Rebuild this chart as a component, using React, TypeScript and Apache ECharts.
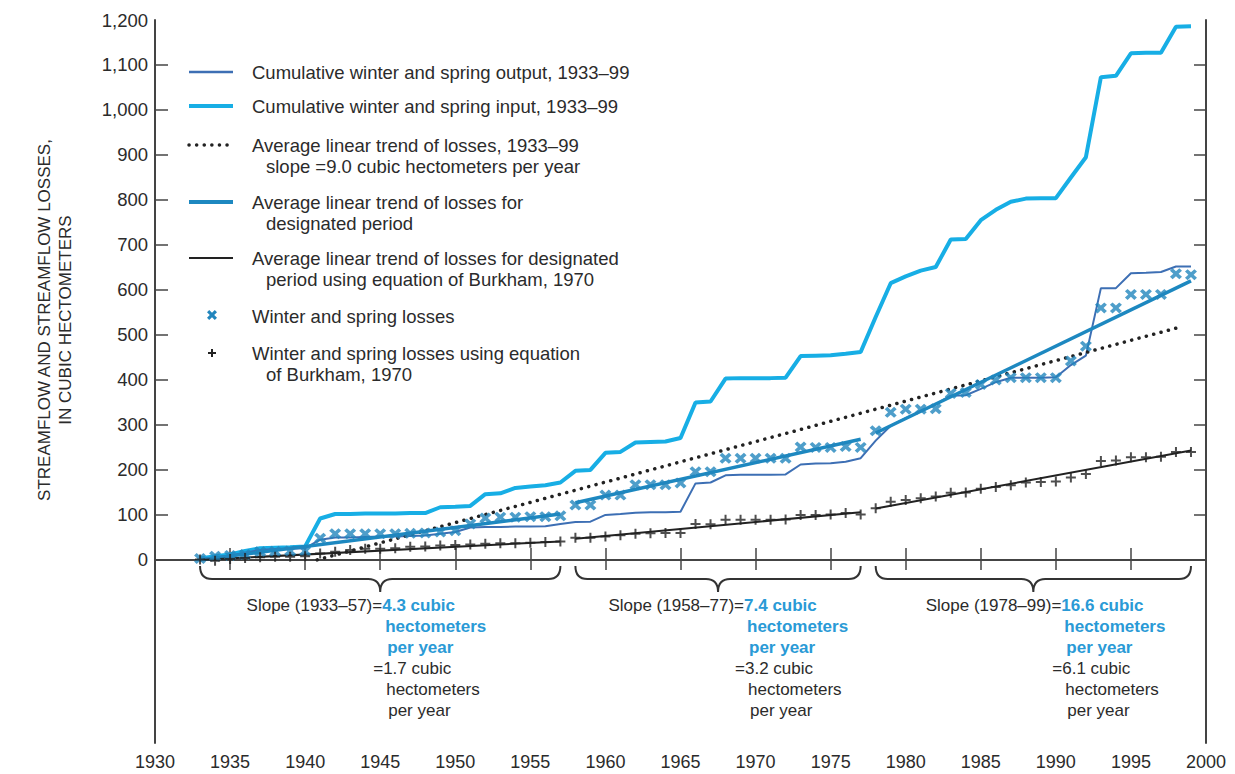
import React, { useEffect, useRef } from "react";
import * as echarts from "echarts";

// ---------------- DATA ----------------
const FIRST_YEAR = 1933;
const LAST_YEAR = 1999;
const YEARS: number[] = [];
for (let y = FIRST_YEAR; y <= LAST_YEAR; y++) YEARS.push(y);

const CUM_INPUT = [
  3, 8, 12, 20, 26, 27, 28, 30, 92, 102,
  102, 103, 103, 103, 104, 104, 117, 118, 120, 146,
  148, 160, 163, 166, 172, 198, 200, 238, 240, 261,
  262, 263, 271, 350, 352, 403, 404, 404, 404, 405,
  453, 454, 455, 458, 462, 540, 615, 630, 643, 651,
  712, 713, 755, 778, 796, 803, 804, 804, 850, 895,
  1073, 1076, 1126, 1127, 1127, 1185, 1186,
];
const CUM_OUTPUT = [
  2, 6, 10, 16, 22, 24, 25, 26, 45, 50,
  50, 51, 52, 52, 53, 54, 58, 62, 72, 73,
  73, 74, 74, 75, 80, 84, 85, 100, 102, 105,
  106, 106, 107, 170, 172, 188, 189, 189, 189, 190,
  212, 214, 215, 218, 226, 265, 298, 315, 330, 346,
  365, 366, 380, 395, 405, 405, 405, 406, 433, 454,
  604, 604, 637, 638, 640, 652, 652,
];
const LOSSES = [
  3, 8, 10, 12, 18, 19, 20, 20, 48, 58,
  58, 58, 58, 58, 59, 60, 62, 65, 80, 93,
  95, 95, 96, 96, 98, 122, 122, 144, 144, 167,
  167, 167, 171, 196, 196, 226, 226, 226, 226, 226,
  251, 250, 250, 252, 250, 287, 328, 335, 335, 336,
  370, 372, 390, 400, 405, 405, 405, 405, 442, 475,
  560, 560, 590, 590, 590, 636, 634,
];
const LOSSES_BURKHAM = [
  1, -2, 2, 4, 6, 7, 7, 8, 14, 18,
  22, 25, 25, 26, 29, 30, 32, 33, 34, 36,
  37, 37, 38, 40, 41, 49, 49, 52, 55, 58,
  59, 60, 60, 80, 79, 89, 89, 89, 89, 90,
  100, 100, 101, 104, 101, 115, 129, 133, 137, 141,
  149, 150, 158, 162, 166, 172, 173, 174, 183, 191,
  220, 221, 228, 228, 229, 240, 240,
];

// designated periods and their linear trends [start value, end value]
const PERIODS = [
  [1933, 1957],
  [1958, 1977],
  [1978, 1999],
];
const PERIOD_LABELS = ["1933–57", "1958–77", "1978–99"];
const TREND_DESIGNATED = [
  [0, 102],
  [127, 268],
  [282, 620],
];
const TREND_BURKHAM = [
  [0, 41],
  [47, 106],
  [114, 243],
];
const SLOPE_DESIGNATED = ["4.3", "7.4", "16.6"];
const SLOPE_BURKHAM = ["1.7", "3.2", "6.1"];
// overall average linear trend 1933–99 (slope 9.0)
const TREND_OVERALL = [
  [1940.8, 0],
  [1998, 515],
];

const X_TICKS = [1930, 1935, 1940, 1945, 1950, 1955, 1960, 1965, 1970, 1975, 1980, 1985, 1990, 1995, 2000];
const Y_LABELS = [0, 100, 200, 300, 400, 500, 600, 700, 800, 900, 1000, 1100, 1200];
const Y_TICKS = [0, 100, 200, 300, 400, 500, 600, 700, 800, 900, 1000, 1100];

// ---------------- STYLE ----------------
const FONT = "'Liberation Sans', Arial, sans-serif";
const TEXT = "#2b2b2b";
const AXIS = "#444444";
const C_OUTPUT = "#3d6fb4";
const C_INPUT = "#17aee5";
const C_TREND = "#1d88c0";
const C_MARK = "#2286bd";
const C_BLUE_TEXT = "#2a9ad6";
const C_BLACK = "#222222";
const LEGEND_FS = 18.5;
const NOTE_FS = 17;

const X_SYMBOL = "path://M0,2.2 L2.2,0 L5,2.8 L7.8,0 L10,2.2 L7.2,5 L10,7.8 L7.8,10 L5,7.2 L2.2,10 L0,7.8 L2.8,5 Z";
const PLUS_SYMBOL = "path://M4,0 H6 V4 H10 V6 H6 V10 H4 V6 H0 V4 H4 Z";

const pairs = (vals: number[]) => YEARS.map((y, i) => [y, vals[i]]);

function segmentSeries(name: string, trend: number[][], color: string, width: number) {
  return PERIODS.map((p, i) => ({
    type: "line",
    name,
    data: [
      [p[0], trend[i][0]],
      [p[1], trend[i][1]],
    ],
    showSymbol: false,
    symbol: "none",
    lineStyle: { color, width },
    silent: true,
    z: 4,
  }));
}

function txt(text: string, x: number, y: number, extra: any = {}) {
  return {
    type: "text",
    x,
    y,
    silent: true,
    style: {
      text,
      fill: TEXT,
      fontSize: LEGEND_FS,
      fontFamily: FONT,
      align: "left",
      textAlign: "left",
      verticalAlign: "middle",
      textVerticalAlign: "middle",
      ...extra,
    },
  };
}

function legendGraphic() {
  const sx1 = 189;
  const sx2 = 233;
  const tx = 252;
  const ix = 266;
  const els: any[] = [];
  const line = (y: number, color: string, w: number, dash?: number[]) =>
    els.push({
      type: "line",
      silent: true,
      shape: { x1: sx1, y1: y, x2: sx2, y2: y },
      style: { stroke: color, lineWidth: w, lineDash: dash, lineCap: dash ? "round" : "butt" },
    });
  line(72, C_OUTPUT, 2.5);
  els.push(txt("Cumulative winter and spring output, 1933–99", tx, 72));
  line(106, C_INPUT, 4);
  els.push(txt("Cumulative winter and spring input, 1933–99", tx, 106));
  line(145, C_BLACK, 3.5, [0.1, 7.5]);
  els.push(txt("Average linear trend of losses, 1933–99", tx, 145));
  els.push(txt("slope =9.0 cubic hectometers per year", ix, 166));
  line(202, C_TREND, 4);
  els.push(txt("Average linear trend of losses for", tx, 202));
  els.push(txt("designated period", ix, 223));
  line(258, C_BLACK, 2);
  els.push(txt("Average linear trend of losses for designated", tx, 258));
  els.push(txt("period using equation of Burkham, 1970", ix, 279));
  // x marker
  els.push({
    type: "polygon",
    silent: true,
    shape: {
      points: [
        [207, 312.2], [209.2, 310], [212, 312.8], [214.8, 310], [217, 312.2], [214.2, 315],
        [217, 317.8], [214.8, 320], [212, 317.2], [209.2, 320], [207, 317.8], [209.8, 315],
      ],
    },
    style: { fill: C_MARK },
  });
  els.push(txt("Winter and spring losses", tx, 316));
  els.push({
    type: "line",
    silent: true,
    shape: { x1: 208, y1: 353, x2: 216, y2: 353 },
    style: { stroke: C_BLACK, lineWidth: 2 },
  });
  els.push({
    type: "line",
    silent: true,
    shape: { x1: 212, y1: 349, x2: 212, y2: 357 },
    style: { stroke: C_BLACK, lineWidth: 2 },
  });
  els.push(txt("Winter and spring losses using equation", tx, 353));
  els.push(txt("of Burkham, 1970", ix, 374));

  // y axis title
  const title = (text: string, x: number) => ({
    type: "text",
    x,
    y: 320,
    rotation: Math.PI / 2,
    silent: true,
    style: {
      text,
      fill: TEXT,
      fontSize: 17,
      fontFamily: FONT,
      align: "center",
      textAlign: "center",
      verticalAlign: "middle",
      textVerticalAlign: "middle",
    },
  });
  els.push(title("STREAMFLOW AND STREAMFLOW LOSSES,", 44));
  els.push(title("IN CUBIC HECTOMETERS", 65));
  return els;
}

// horizontal offsets of annotation anchor relative to brace tip (layout)
const ANNOT_DX = [2, 26, 28];

function renderBrace(params: any, api: any) {
  const i = params.dataIndex;
  const p0 = api.coord([api.value(0), 0]);
  const p1 = api.coord([api.value(1), 0]);
  const x0 = p0[0];
  const x1 = p1[0];
  const y0 = p0[1];
  const yTop = y0 + 6;
  const yMid = y0 + 19;
  const yTip = y0 + 32;
  const xc = (x0 + x1) / 2;
  const r = 12;
  const d =
    `M${x0},${yTop} Q${x0},${yMid} ${x0 + r},${yMid} L${xc - r},${yMid} ` +
    `Q${xc},${yMid} ${xc},${yTip} Q${xc},${yMid} ${xc + r},${yMid} ` +
    `L${x1 - r},${yMid} Q${x1},${yMid} ${x1},${yTop}`;
  const ax = xc + ANNOT_DX[i];
  const ly = (k: number) => y0 + 46 + k * 21;
  const t = (text: string, x: number, y: number, color: string, bold: boolean, align = "left") => ({
    type: "text",
    style: {
      text,
      x,
      y,
      fill: color,
      fontSize: NOTE_FS,
      fontFamily: FONT,
      fontWeight: bold ? "bold" : "normal",
      align,
      textAlign: align,
      verticalAlign: "middle",
      textVerticalAlign: "middle",
    },
  });
  return {
    type: "group",
    children: [
      { type: "path", shape: { pathData: d }, style: { stroke: "#333", lineWidth: 2, fill: "none" } },
      t(`Slope (${PERIOD_LABELS[i]})=`, ax, ly(0), TEXT, false, "right"),
      t(`${SLOPE_DESIGNATED[i]} cubic`, ax, ly(0), C_BLUE_TEXT, true),
      t("hectometers", ax + 3, ly(1), C_BLUE_TEXT, true),
      t("per year", ax + 5, ly(2), C_BLUE_TEXT, true),
      t(`=${SLOPE_BURKHAM[i]} cubic`, ax - 9, ly(3), TEXT, false),
      t("hectometers", ax + 4, ly(4), TEXT, false),
      t("per year", ax + 6, ly(5), TEXT, false),
    ],
  };
}

function buildOption() {
  const axisLine = { show: true, lineStyle: { color: AXIS, width: 2 } };
  return {
    animation: false,
    backgroundColor: "#ffffff",
    grid: { left: 155, right: 29, top: 20, bottom: 31, containLabel: false },
    xAxis: [
      {
        type: "value",
        min: 1930,
        max: 2000,
        interval: 5,
        position: "bottom",
        axisLine,
        splitLine: { show: false },
        axisTick: { inside: true, length: 12, lineStyle: { color: AXIS, width: 1.5 } },
        axisLabel: {
          color: TEXT,
          fontSize: 18,
          fontFamily: FONT,
          margin: 10,
          formatter: (v: number) => String(v),
          customValues: X_TICKS,
        },
      },
      {
        type: "value",
        min: 1930,
        max: 2000,
        interval: 5,
        position: "top",
        axisLine,
        splitLine: { show: false },
        axisTick: { inside: true, length: 10, lineStyle: { color: AXIS, width: 1.5 } },
        axisLabel: { show: false },
      },
    ],
    yAxis: [
      {
        type: "value",
        min: -407,
        max: 1200,
        position: "left",
        axisLine,
        splitLine: { show: false },
        axisTick: { inside: true, length: 13, customValues: Y_TICKS, lineStyle: { color: AXIS, width: 1.5 } },
        axisLabel: {
          color: TEXT,
          fontSize: 18.5,
          fontFamily: FONT,
          margin: 7,
          customValues: Y_LABELS,
          formatter: (v: number) => (v < 0 ? "" : v.toLocaleString("en-US")),
        },
      },
      {
        type: "value",
        min: -407,
        max: 1200,
        position: "right",
        axisLine,
        splitLine: { show: false },
        axisTick: { inside: true, length: 12, customValues: Y_TICKS, lineStyle: { color: AXIS, width: 1.5 } },
        axisLabel: { show: false },
      },
    ],
    graphic: legendGraphic(),
    series: [
      {
        type: "line",
        name: "Cumulative winter and spring input, 1933–99",
        data: pairs(CUM_INPUT),
        showSymbol: false,
        symbol: "none",
        lineStyle: { color: C_INPUT, width: 4 },
        z: 2,
      },
      {
        type: "line",
        name: "Cumulative winter and spring output, 1933–99",
        data: pairs(CUM_OUTPUT),
        showSymbol: false,
        symbol: "none",
        lineStyle: { color: C_OUTPUT, width: 2 },
        z: 3,
      },
      {
        type: "line",
        name: "Average linear trend of losses, 1933–99",
        data: TREND_OVERALL,
        showSymbol: false,
        symbol: "none",
        lineStyle: { color: C_BLACK, width: 3.5, type: [0.1, 7.5], cap: "round" },
        z: 3,
      },
      ...segmentSeries("Average linear trend of losses for designated period", TREND_DESIGNATED, C_TREND, 3.5),
      ...segmentSeries("Average linear trend of losses using equation of Burkham, 1970", TREND_BURKHAM, C_BLACK, 2),
      {
        type: "scatter",
        name: "Winter and spring losses",
        data: pairs(LOSSES),
        symbol: X_SYMBOL,
        symbolSize: [12, 11],
        itemStyle: { color: C_MARK },
        z: 5,
      },
      {
        type: "scatter",
        name: "Winter and spring losses using equation of Burkham, 1970",
        data: pairs(LOSSES_BURKHAM),
        symbol: PLUS_SYMBOL,
        symbolSize: 10,
        itemStyle: { color: C_BLACK },
        z: 5,
      },
      {
        type: "custom",
        name: "Designated periods",
        data: PERIODS,
        renderItem: renderBrace,
        silent: true,
        clip: false,
        z: 6,
      },
    ],
  };
}

export default function App() {
  const ref = useRef<HTMLDivElement>(null);
  useEffect(() => {
    if (!ref.current) return;
    const chart = echarts.init(ref.current, null, { renderer: "svg" });
    chart.setOption(buildOption() as any);
    return () => chart.dispose();
  }, []);
  return (
    <div
      ref={ref}
      style={{ position: "fixed", left: 0, top: 0, width: 1235, height: 774, background: "#ffffff" }}
    />
  );
}
